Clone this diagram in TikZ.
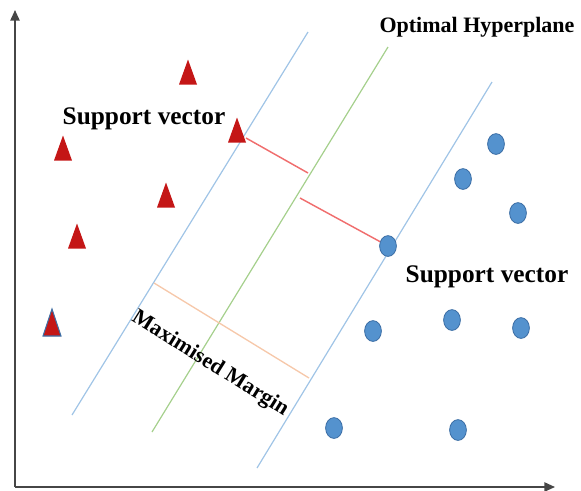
\documentclass[tikz,border=0pt]{standalone}
\usepackage{fontspec}
\setmainfont{Liberation Serif}
\usetikzlibrary{arrows.meta,shapes.geometric}
\definecolor{planeblue}{RGB}{160,196,230}
\definecolor{planegreen}{RGB}{165,208,140}
\definecolor{marginred}{RGB}{240,110,110}
\definecolor{marginpeach}{RGB}{246,200,170}
\definecolor{trired}{RGB}{196,22,22}
\definecolor{dotblue}{RGB}{84,146,206}
\definecolor{dotedge}{RGB}{60,110,165}
\definecolor{axisgray}{RGB}{70,70,70}
\tikzset{
  classA/.style={fill=trired, draw=none},
  classB/.style={ellipse, fill=dotblue, draw=dotedge, line width=0.6pt,
    minimum width=12.6pt, minimum height=15.6pt, inner sep=0pt},
  plane/.style={line width=0.9pt},
  axisline/.style={draw=axisgray, line width=1.1pt, -{Triangle[length=8pt,width=7pt]}},
  lbl/.style={font=\bfseries\fontsize{19}{21}\selectfont, inner sep=0pt},
  lblsmall/.style={font=\bfseries\fontsize{16.5}{18}\selectfont, inner sep=0pt},
}
\begin{document}
\begin{tikzpicture}[x=0.75pt, y=-0.75pt]
\useasboundingbox (0,0) rectangle (581,490);

% axes
\coordinate (origin) at (15,487);
\coordinate (ytip) at (15,10);
\coordinate (xtip) at (555,487);
\draw[axisline] (origin) -- (ytip);
\draw[axisline] (origin) -- (xtip);

% margin planes and optimal hyperplane
\coordinate (l1) at (72,415);  \coordinate (l2) at (308,32);
\coordinate (h1) at (152,432); \coordinate (h2) at (388,47);
\coordinate (r1) at (257,468); \coordinate (r2) at (492,82);
\draw[plane, planeblue] (l1) -- (l2);
\draw[plane, planegreen] (h1) -- (h2);
\draw[plane, planeblue] (r1) -- (r2);

% margin width
\coordinate (m1) at (154,283);
\coordinate (m2) at (309,378);
\draw[line width=1pt, marginpeach] (m1) -- (m2);

% class A: triangles
\foreach \n/\x/\y in {t1/188/72, t2/237/130, t3/63/148, t4/166/195, t5/77/236}{
  \coordinate (\n) at (\x,\y);
  \fill[classA] (\x-9,\y+12.5) -- (\x,\y-12.5) -- (\x+9,\y+12.5) -- cycle;
}
\coordinate (t6) at (52,323);
\filldraw[fill=trired, draw=dotedge, line width=0.8pt]
  (43,336) -- (52,309) -- (61,336) -- cycle;

% class B: dots
\foreach \n/\x/\y in {c1/496/144, c2/463/179, c3/518/213, c4/388/246,
  c5/373/331, c6/452/320, c7/521/328, c8/334/428, c9/458/430}{
  \node[classB] (\n) at (\x,\y) {};
}

% distances from support vectors to the hyperplane
\coordinate (sA) at (246,138);
\coordinate (hA) at (308,173);
\coordinate (hB) at (300,198);
\draw[line width=1.1pt, marginred] (sA) -- (hA);
\draw[line width=1.1pt, marginred] (hB) -- (c4);

% labels
\node[lbl] (svA) at (144,119) {Support vector};
\node[lbl] (svB) at (487,277) {Support vector};
\node[lblsmall] (opt) at (477,27) {Optimal Hyperplane};
\node[lblsmall, rotate=-32] (mm) at (210,364) {Maximised Margin};
\end{tikzpicture}
\end{document}
